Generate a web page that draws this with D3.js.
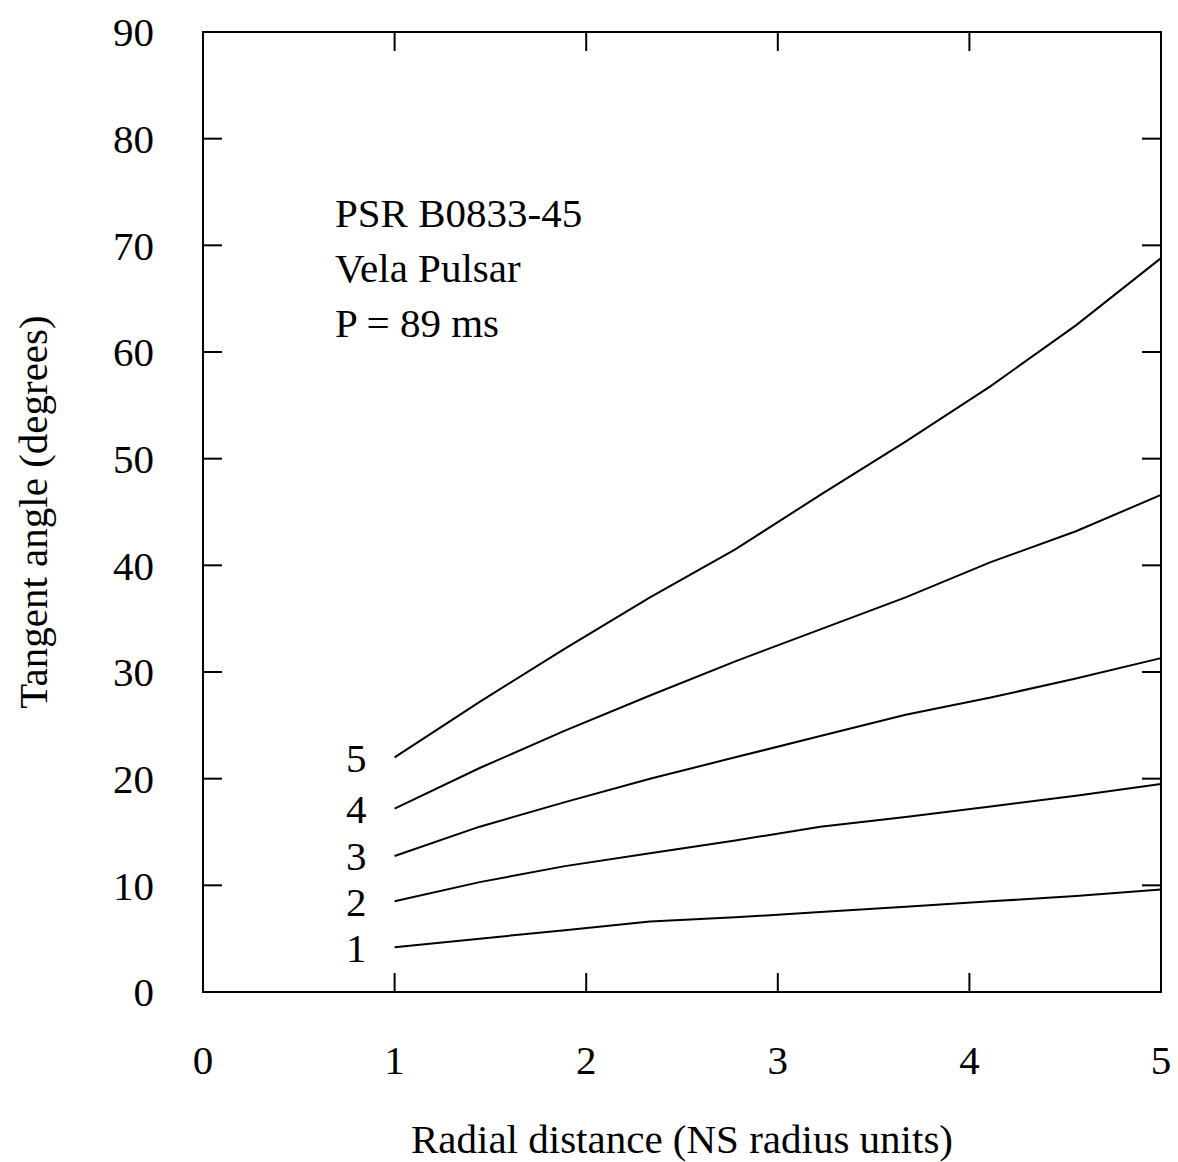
<!DOCTYPE html>
<html>
<head>
<meta charset="utf-8">
<script src="https://cdn.jsdelivr.net/npm/d3@7"></script>
<style>
  body { margin: 0; background: #fff; }
  text { font-family: "Liberation Serif", "Times New Roman", serif; fill: #000; }
</style>
</head>
<body>
<div id="chart"></div>
<script>

// Data
const radial = [1, 1.444, 1.889, 2.333, 2.778, 3.222, 3.667, 4.111, 4.556, 5]
const curve_names = ['1', '2', '3', '4', '5']
const curve_1 = [4.2, 5.0, 5.8, 6.6, 7.0, 7.5, 8.0, 8.5, 9.0, 9.6]
const curve_2 = [8.5, 10.3, 11.8, 13.0, 14.2, 15.5, 16.4, 17.4, 18.4, 19.5]
const curve_3 = [12.75, 15.5, 17.8, 20.0, 22.0, 24.0, 26.0, 27.6, 29.4, 31.3]
const curve_4 = [17.2, 21.0, 24.5, 27.8, 31.0, 34.0, 37.0, 40.3, 43.2, 46.6]
const curve_5 = [22.0, 27.2, 32.2, 37.0, 41.5, 46.6, 51.6, 56.8, 62.5, 68.8]
const x_ticks = [0, 1, 2, 3, 4, 5]
const y_ticks = [0, 10, 20, 30, 40, 50, 60, 70, 80, 90]
const notes = ['PSR B0833-45', 'Vela Pulsar', 'P = 89 ms']

const curves = [curve_1, curve_2, curve_3, curve_4, curve_5]

const W = 1178
const H = 1162
const margin = { top: 32, right: 16, bottom: 170, left: 203 }
const tick_len = 19
const font_size = 41

let svg = d3.select('#chart')
  .append('svg')
  .attr('width', W)
  .attr('height', H)

let x = d3.scaleLinear()
  .domain([0, 5])
  .range([margin.left, W - margin.right - 1])

let y = d3.scaleLinear()
  .domain([0, 90])
  .range([H - margin.bottom, margin.top])

let x0 = x.range()[0], x1 = x.range()[1]
let y0 = y.range()[0], y1 = y.range()[1]

// Inward ticks on all four sides
let g_ax = svg.append('g')
  .attr('stroke', '#000')
  .attr('stroke-width', 2)

g_ax.selectAll('.xt-bot')
  .data(x_ticks)
  .enter()
  .append('line')
    .attr('x1', d => x(d)).attr('x2', d => x(d))
    .attr('y1', y0).attr('y2', y0 - tick_len)

g_ax.selectAll('.xt-top')
  .data(x_ticks)
  .enter()
  .append('line')
    .attr('x1', d => x(d)).attr('x2', d => x(d))
    .attr('y1', y1).attr('y2', y1 + tick_len)

g_ax.selectAll('.yt-left')
  .data(y_ticks)
  .enter()
  .append('line')
    .attr('x1', x0).attr('x2', x0 + tick_len)
    .attr('y1', d => y(d)).attr('y2', d => y(d))

g_ax.selectAll('.yt-right')
  .data(y_ticks)
  .enter()
  .append('line')
    .attr('x1', x1).attr('x2', x1 - tick_len)
    .attr('y1', d => y(d)).attr('y2', d => y(d))

// Frame
svg.append('rect')
  .attr('x', x0).attr('y', y1)
  .attr('width', x1 - x0).attr('height', y0 - y1)
  .attr('fill', 'none')
  .attr('stroke', '#000')
  .attr('stroke-width', 2)

// Tick labels
svg.selectAll('.xl')
  .data(x_ticks)
  .enter()
  .append('text')
    .attr('x', d => x(d))
    .attr('y', y0 + 68)
    .attr('dy', '0.35em')
    .attr('text-anchor', 'middle')
    .style('font-size', font_size + 'px')
    .text(d => d)

svg.selectAll('.yl')
  .data(y_ticks)
  .enter()
  .append('text')
    .attr('x', x0 - 49)
    .attr('y', d => y(d))
    .attr('dy', '0.35em')
    .attr('text-anchor', 'end')
    .style('font-size', font_size + 'px')
    .text(d => d)

// Axis titles
svg.append('text')
  .attr('x', (x0 + x1) / 2)
  .attr('y', y0 + 147)
  .attr('dy', '0.35em')
  .attr('text-anchor', 'middle')
  .style('font-size', font_size + 'px')
  .text('Radial distance (NS radius units)')

svg.append('text')
  .attr('transform', `translate(33, ${(y0 + y1) / 2}) rotate(-90)`)
  .attr('dy', '0.35em')
  .attr('text-anchor', 'middle')
  .style('font-size', font_size + 'px')
  .text('Tangent angle (degrees)')

// Curves
let line = d3.line()
  .x((d, i) => x(radial[i]))
  .y(d => y(d))

svg.selectAll('.curve')
  .data(curves)
  .enter()
  .append('path')
    .attr('d', d => line(d))
    .attr('fill', 'none')
    .attr('stroke', '#000')
    .attr('stroke-width', 2)

// Curve numbers
svg.selectAll('.curve-label')
  .data(curves)
  .enter()
  .append('text')
    .attr('x', x(0.8))
    .attr('y', d => y(d[0]))
    .attr('dy', '0.35em')
    .attr('text-anchor', 'middle')
    .style('font-size', font_size + 'px')
    .text((d, i) => curve_names[i])

// Annotation
svg.selectAll('.note')
  .data(notes)
  .enter()
  .append('text')
    .attr('x', 335)
    .attr('y', (d, i) => 227 + i * 55)
    .style('font-size', font_size + 'px')
    .text(d => d)

</script>
</body>
</html>
